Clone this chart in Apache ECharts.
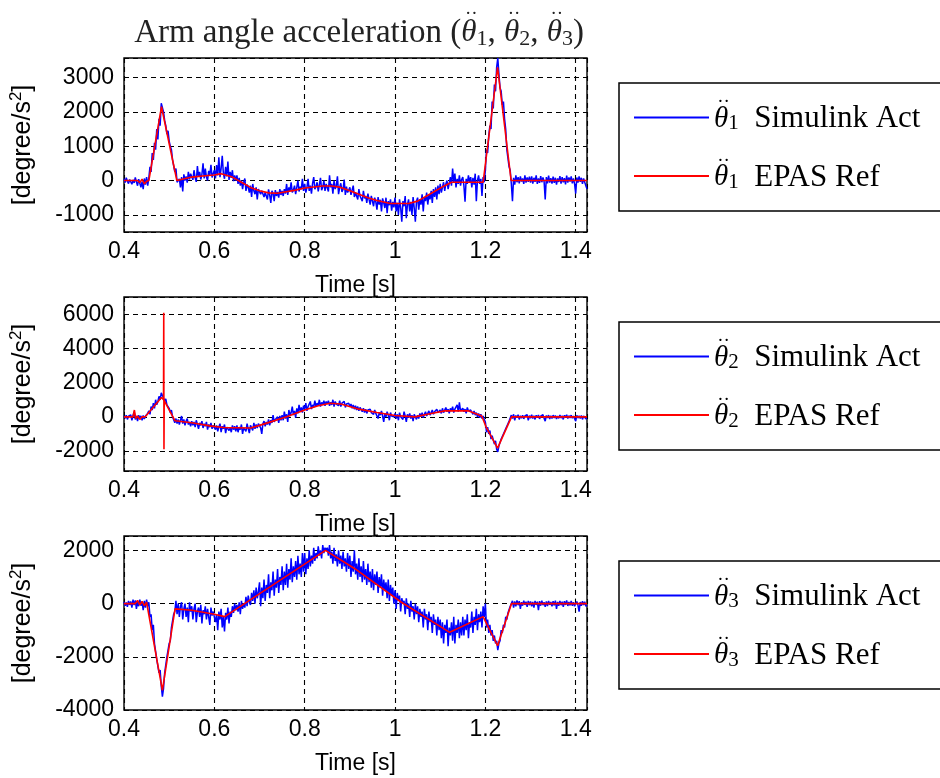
<!DOCTYPE html>
<html><head><meta charset="utf-8">
<script src="https://cdn.jsdelivr.net/npm/echarts@6/dist/echarts.min.js"></script>
<style>html,body{margin:0;padding:0;background:#fff}#c{width:940px;height:778px}</style>
</head><body><div id="c"></div>
<script>
// sample grid of the "Simulink Act" traces (start time, sample step in s)
const T0 = 0.4, DT = 0.0025;
const xTicks = ['0.4', '0.6', '0.8', '1', '1.2', '1.4'];

// theta1'' Simulink Act (deg/s^2), one value per sample
const act1 = [
  50,-60,80,-20,-90,30,60,-110,20,-70,90,-40,-150,40,-80,-200,-30,-250,60,-120,
  100,-150,80,400,250,800,600,1100,900,1500,1200,1800,1600,2250,2300,2000,1750,1600,1350,1450,
  1150,1000,900,600,650,250,350,-50,-100,50,-200,100,-320,180,0,120,-60,250,30,200,
  150,20,300,80,-40,420,110,250,30,180,500,60,350,100,0,280,150,460,90,200,
  300,60,450,150,680,100,350,720,200,50,400,120,550,20,250,80,300,-20,150,0,
  150,-100,80,-150,0,-250,-50,60,-300,-120,-200,-350,-150,-480,-100,-300,-400,-200,-550,-250,
  -200,-400,-300,-250,-480,-350,-300,-550,-260,-420,-650,-300,-380,-600,-280,-450,-330,-500,-250,-420,
  -300,-450,-250,-380,-100,-420,-200,-300,-50,-350,-280,-150,-400,-200,0,-320,-180,-250,50,-300,
  -100,-350,-200,50,-300,-150,-380,-80,100,-250,-180,-50,-320,-120,80,-280,-200,0,-300,-100,
  -50,-320,150,-200,-100,-380,0,-250,-150,120,-400,-200,-80,-330,-250,30,-420,-180,-350,-280,
  -200,-420,-280,-150,-480,-350,-300,-550,-250,-450,-400,-600,-300,-520,-450,-650,-380,-550,-700,-450,
  -450,-750,-500,-620,-850,-480,-700,-560,-900,-520,-650,-800,-500,-950,-600,-720,-550,-880,-620,-780,
  -500,-900,-650,-1000,-550,-800,-1200,-600,-750,-450,-1100,-700,-550,-900,-620,-1000,-480,-800,-1200,-600,
  -500,-850,-550,-700,-400,-900,-480,-600,-350,-700,-420,-550,-300,-650,-250,-480,-200,-550,-150,-400,
  -100,-350,-200,-50,-300,-100,0,-250,-80,100,-150,350,-50,200,-200,50,-100,150,-150,30,
  100,-150,-620,50,-100,150,-50,100,-200,80,-120,200,-600,0,150,-100,50,-450,100,-50,
  300,900,800,1300,1600,1500,2300,2100,2800,2600,3300,3570,3100,2700,2600,2200,2300,1800,1500,900,
  900,400,300,-100,-600,80,-120,150,-50,100,-80,120,-30,60,-100,150,-60,90,-40,110,
  -60,120,-90,80,-40,150,-100,60,-70,130,-50,90,-30,-550,100,-80,140,-60,70,-90,
  110,-70,80,-120,60,-40,130,-90,100,-50,70,-110,140,-60,90,-30,120,-80,60,-100,
  -380,90,-60,120,-40,80,-100,60,-50,-150,-250
];
// theta1'' EPAS Ref [time, value]
const ref1 = [
  [0.40,0],[0.43,0],[0.435,-60],[0.44,40],[0.445,-100],[0.45,-20],[0.455,0],
  [0.483,2150],[0.517,0],[0.52,-30],[0.55,100],[0.58,140],[0.60,160],[0.615,200],
  [0.64,100],[0.66,-50],[0.68,-200],[0.70,-300],[0.72,-360],[0.74,-370],
  [0.78,-280],[0.80,-220],[0.84,-160],[0.86,-160],[0.88,-200],[0.90,-300],
  [0.92,-400],[0.94,-500],[0.96,-580],[0.98,-640],[0.99,-670],[1.03,-670],
  [1.05,-600],[1.07,-450],[1.09,-300],[1.11,-150],[1.125,-50],[1.195,-50],
  [1.227,3300],[1.257,0],[1.425,0]
];

// theta2''
const act2 = [
  60,-80,100,-150,40,-60,120,-200,80,300,-150,50,-250,100,-100,60,-200,80,-120,50,
  -50,200,350,150,600,400,800,500,1000,700,900,1200,1000,1400,1300,1100,900,1050,700,800,
  500,250,400,0,100,-350,-100,-400,-150,-450,-200,50,-400,-150,-500,-250,-100,-450,-300,-550,
  -250,-500,-300,-600,-200,-450,-700,-350,-500,-250,-650,-400,-550,-300,-750,-450,-600,-350,-700,-500,
  -450,-750,-500,-850,-600,-400,-900,-550,-700,-450,-950,-600,-500,-800,-650,-900,-500,-750,-550,-850,
  -500,-900,-600,-750,-450,-1000,-650,-550,-850,-400,-700,-950,-500,-600,-800,-350,-700,-450,-650,-400,
  -350,-650,-1000,-400,-250,-550,-300,-450,-150,-500,-200,-350,100,-300,-150,-250,0,-350,50,-200,
  100,-200,300,-100,150,-300,400,50,250,600,100,350,-50,500,200,700,300,550,250,650,
  450,800,350,600,500,900,450,700,550,950,600,800,650,1000,600,850,700,950,650,900,
  750,950,650,850,700,1000,600,900,750,850,650,950,600,800,700,900,550,750,650,800,
  600,750,500,700,450,650,400,600,350,550,450,300,500,250,450,200,400,300,450,250,
  350,150,400,200,300,-100,250,100,350,50,-300,200,0,300,100,-200,250,50,150,0,
  200,-100,150,-200,250,0,100,-150,300,50,-300,150,-50,200,-100,100,-250,150,0,-150,
  100,-100,200,0,250,-50,150,300,50,200,350,100,250,400,150,300,200,450,250,350,
  400,200,500,250,350,550,300,450,200,500,350,600,250,450,400,700,300,850,350,450,
  500,300,450,200,550,350,250,400,300,150,350,100,250,0,200,-50,150,-100,50,-150,
  -300,-900,-600,-1000,-800,-1300,-1100,-1200,-1600,-1400,-1900,-2050,-1700,-1600,-1300,-1400,-1000,-1100,-700,-800,
  -400,-250,-150,100,-100,150,-200,80,-50,120,-150,60,-80,100,-120,50,-60,130,-200,70,
  -80,120,-100,60,-150,90,-50,110,-120,40,-60,130,-90,-250,80,-70,100,-130,60,-90,
  100,-60,80,-120,50,-90,110,-70,60,-150,90,-40,120,-100,70,-60,100,-80,50,-110,
  -250,90,-70,60,-100,80,-150,50,-60,-120,-100
];
const ref2 = [
  [0.40,0],[0.42,0],[0.423,400],[0.426,-100],[0.43,50],[0.435,-150],[0.44,0],[0.447,0],
  [0.483,1130],[0.4875,1000],[0.488,6100],[0.4885,-1900],[0.489,950],
  [0.513,-230],[0.55,-350],[0.59,-530],[0.62,-620],[0.68,-650],[0.70,-500],
  [0.73,-250],[0.76,0],[0.80,400],[0.83,650],[0.856,800],[0.88,750],[0.92,450],
  [0.96,250],[1.00,80],[1.044,0],[1.08,200],[1.11,350],[1.162,350],[1.192,50],
  [1.202,-620],[1.227,-1830],[1.258,0],[1.425,0]
];

// theta3''
const act3 = [
  60,-80,40,-120,100,-50,80,-150,150,-60,120,-200,50,-100,150,-80,60,-250,100,-150,
  150,-100,50,-500,-400,-1000,-800,-1500,-1500,-2100,-2100,-2600,-2500,-3100,-3500,-3200,-2600,-2600,-2000,-2000,
  -1500,-1400,-900,-900,-400,-300,100,-400,0,-500,-100,50,-600,-200,0,-500,-150,-700,50,-300,
  -100,-600,-200,0,-700,-300,-150,-500,-50,-750,-250,-400,-100,-600,-200,-500,-800,-150,-450,-300,
  -250,-700,-400,-1000,-300,-600,-200,-900,-500,-1050,-350,-600,-150,-750,-300,-500,-100,-350,0,-250,
  -50,-300,50,-400,100,-200,0,-150,250,-100,300,50,-50,400,100,500,0,600,200,450,
  800,-100,600,200,900,100,700,400,1100,200,800,500,1200,300,900,600,1300,400,1000,700,
  1400,500,1200,700,1500,600,1300,900,1700,800,1400,1000,1600,900,1800,1100,1500,1000,1900,1200,
  1900,1100,1700,1300,2000,1400,1800,1500,2100,1600,1900,1700,2150,1800,2000,1700,2200,1900,2100,2000,
  2100,1800,2200,1700,1950,1500,2100,1600,1850,1400,2000,1500,1800,1300,1950,1400,1700,1200,1900,1300,
  1800,1000,1600,1200,2000,1100,1500,900,1700,1000,1400,800,1600,900,1300,700,1500,800,1200,600,
  1300,500,1100,700,1200,400,1000,600,1100,300,900,500,800,200,900,100,700,300,600,0,
  500,-200,400,100,300,-300,200,0,100,-400,200,-200,0,-500,100,-300,-100,-600,0,-400,
  -100,-700,-200,-500,-300,-900,-200,-600,-400,-1000,-300,-700,-500,-1100,-400,-800,-600,-1200,-500,-1000,
  -600,-1300,-700,-1500,-800,-1100,-600,-1600,-900,-1200,-700,-1400,-500,-1500,-800,-1100,-600,-1300,-700,-1200,
  -500,-1200,-600,-1000,-400,-1300,-700,-900,-300,-1100,-500,-800,-200,-1000,-400,-700,-300,-900,-100,-500,
  0,-900,-600,-1100,-800,-1200,-1000,-1400,-1200,-1500,-1400,-1750,-1500,-1400,-1000,-1100,-800,-900,-500,-600,
  -350,-300,-100,-50,100,-150,80,-100,120,-60,90,-200,50,-80,110,-50,70,-120,100,-60,
  80,-100,60,-150,100,-50,70,-250,90,-80,110,-60,50,-120,80,-90,100,-50,60,-100,
  90,-70,110,-200,60,-80,100,-60,70,-120,90,-50,120,-90,60,-70,100,-80,50,-100,
  -100,80,-60,-300,60,-80,90,-50,70,-100,-50
];
const ref3 = [
  [0.40,0],[0.425,0],[0.43,120],[0.435,-50],[0.44,80],[0.445,-80],[0.45,50],[0.454,0],
  [0.485,-3260],[0.513,-200],[0.515,-150],[0.55,-250],[0.60,-400],[0.623,-490],
  [0.846,2000],[0.911,1310],[1.014,50],[1.121,-1080],[1.195,-490],[1.227,-1585],
  [1.258,0],[1.425,0]
];

const yRanges = [[-1500, 3570], [-3170, 7015], [-4000, 2540]];
const acts = [act1, act2, act3];
const refs = [ref1, ref2, ref3];
const titleParts = ['Arm angle acceleration (', ', ', ')'];

const SANS = 'Liberation Sans, Arial, sans-serif';
const SERIF = 'Liberation Serif, Times New Roman, serif';
const TH = '\u03B8', DOTS = '\u00B7\u00B7';
const tops = [58, 297, 536];
const legTops = [83, 322, 561];

// text measurement for placing the double dots over theta
const mctx = document.createElement('canvas').getContext('2d');
function tw(text, style, size) { mctx.font = style + ' normal ' + size + 'px ' + SERIF; return mctx.measureText(text).width; }

// legend rich text
const LF = {t: 31, th: 29, sub: 21, dd: 19};
const lThW = tw(TH, 'italic', LF.th), lDdW = tw(DOTS, 'normal', LF.dd);
const lSpacer = Math.max(0.5, lThW / 2 + 2.5 - lDdW / 2);
const richL = {
  ds: {fontSize: 8, width: lSpacer, lineHeight: 3},
  dd: {fontFamily: SERIF, fontSize: LF.dd, color: '#000', lineHeight: 3},
  th: {fontFamily: SERIF, fontSize: LF.th, fontStyle: 'italic', color: '#000', lineHeight: 30},
  sub: {fontFamily: SERIF, fontSize: LF.sub, color: '#000', lineHeight: 20, verticalAlign: 'bottom'},
  t: {fontFamily: SERIF, fontSize: LF.t, color: '#000', lineHeight: 30}
};

// title rich text
const TF = {t: 33, th: 31, sub: 22, dd: 19};
const tThW = tw(TH, 'italic', TF.th), tDdW = tw(DOTS, 'normal', TF.dd);
const x1 = tw(titleParts[0], 'normal', TF.t);
const stepW = tThW + tw('1', 'normal', TF.sub) + tw(titleParts[1], 'normal', TF.t);
const c1 = x1 + tThW / 2 + 2.5;
const TC = '#222';
const richT = {
  s0: {align: 'left', fontSize: 8, width: c1 - tDdW / 2, lineHeight: 3},
  s1: {align: 'left', fontSize: 8, width: stepW - tDdW, lineHeight: 3},
  dd: {align: 'left', fontFamily: SERIF, fontSize: TF.dd, color: TC, lineHeight: 3},
  t: {align: 'left', fontFamily: SERIF, fontSize: TF.t, fontWeight: 'normal', color: TC, lineHeight: 34},
  th: {align: 'left', fontFamily: SERIF, fontSize: TF.th, fontStyle: 'italic', fontWeight: 'normal', color: TC, lineHeight: 34},
  sub: {align: 'left', fontFamily: SERIF, fontSize: TF.sub, fontWeight: 'normal', color: TC, lineHeight: 21, verticalAlign: 'bottom'}
};
const titleText =
  '{s0| }{dd|' + DOTS + '}{s1| }{dd|' + DOTS + '}{s1| }{dd|' + DOTS + '}\n' +
  '{t|' + titleParts[0] + '}{th|' + TH + '}{sub|1}{t|' + titleParts[1] + '}{th|' + TH + '}{sub|2}{t|' +
  titleParts[1] + '}{th|' + TH + '}{sub|3}{t|' + titleParts[2] + '}';

const grid = [], xAxis = [], yAxis = [], series = [], legend = [];
for (let k = 0; k < 3; k++) {
  grid.push({left: 124, top: tops[k], width: 463, height: 174, show: true,
    borderColor: '#000', borderWidth: 1.4, backgroundColor: 'transparent'});
  xAxis.push({
    gridIndex: k, type: 'value', min: 0.4, max: 1.425, interval: 0.2,
    axisLine: {show: false},
    axisTick: {show: true, inside: true, length: 5, lineStyle: {color: '#000'}},
    axisLabel: {fontFamily: SANS, fontSize: 23, color: '#000', margin: 8, showMaxLabel: false,
      formatter: v => { const i = Math.round((v - 0.4) / 0.2); return Math.abs(v - (0.4 + 0.2 * i)) < 1e-6 ? xTicks[i] : ''; }},
    splitLine: {show: true, lineStyle: {color: '#000', type: [5, 4], width: 1.1}},
    name: 'Time [s]', nameLocation: 'middle', nameGap: 42,
    nameTextStyle: {fontFamily: SANS, fontSize: 23, color: '#000'}
  });
  const ya = {
    gridIndex: k, type: 'value', min: yRanges[k][0], max: yRanges[k][1],
    axisLine: {show: false},
    axisTick: {show: true, inside: true, length: 5, lineStyle: {color: '#000'}},
    axisLabel: {fontFamily: SANS, fontSize: 23, color: '#000', margin: 10,
      showMinLabel: k === 2, showMaxLabel: false, formatter: v => String(v)},
    splitLine: {show: true, lineStyle: {color: '#000', type: [5, 4], width: 1.1}},
    name: '{a|[degree/s}{s|2}{a|]}', nameLocation: 'middle', nameGap: 86, nameRotate: 90,
    nameTextStyle: {rich: {
      a: {fontFamily: SANS, fontSize: 25, color: '#000', lineHeight: 30},
      s: {fontFamily: SANS, fontSize: 17, color: '#000', lineHeight: 18, verticalAlign: 'top'}
    }}
  };
  if (k === 2) ya.interval = 2000; else ya.splitNumber = 5;
  yAxis.push(ya);
  const nAct = 'th' + (k + 1) + ' Simulink Act';
  const nRef = 'th' + (k + 1) + ' EPAS Ref';
  series.push({
    name: nAct, type: 'line', xAxisIndex: k, yAxisIndex: k, symbol: 'none', showSymbol: false,
    data: acts[k].map((v, i) => [+(T0 + i * DT).toFixed(4), v]),
    lineStyle: {color: '#0000ff', width: 1.5}, itemStyle: {color: '#0000ff'}, animation: false
  });
  series.push({
    name: nRef, type: 'line', xAxisIndex: k, yAxisIndex: k, symbol: 'none', showSymbol: false,
    data: refs[k], lineStyle: {color: '#ff0000', width: 1.6}, itemStyle: {color: '#ff0000'}, animation: false
  });
  legend.push({
    orient: 'vertical', left: 619, top: legTops[k], data: [nAct, nRef],
    icon: 'rect', itemWidth: 75, itemHeight: 2, itemGap: 17, selectedMode: false,
    padding: [10, 60, 18, 15], borderColor: '#000', borderWidth: 1.5, borderRadius: 0,
    textStyle: {rich: richL, color: '#000'},
    formatter: name => '{ds| }{dd|' + DOTS + '}\n{th|' + TH + '}{sub|' + (k + 1) + '}{t|  ' + name.slice(4) + '}'
  });
}

const chart = echarts.init(document.getElementById('c'), null, {renderer: 'canvas'});
chart.setOption({
  backgroundColor: '#fff',
  animation: false,
  title: {
    text: titleText, left: 354, top: 8, textAlign: 'center',
    textStyle: {fontWeight: 'normal', rich: richT}
  },
  grid, xAxis, yAxis, series, legend
});
</script></body></html>
